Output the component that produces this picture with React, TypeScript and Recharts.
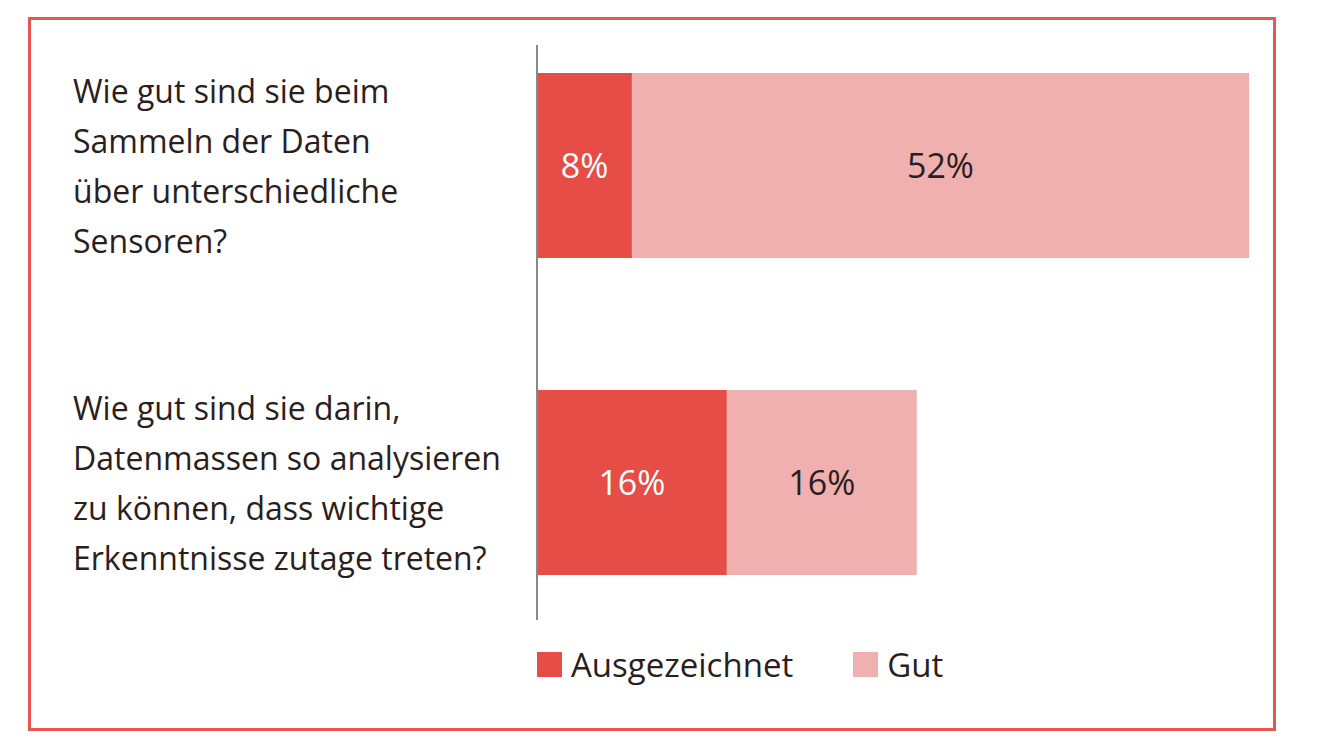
import React from "react"
import { BarChart, Bar, XAxis, YAxis, LabelList, Legend } from "recharts"

const questions = [
  ["Wie gut sind sie beim", "Sammeln der Daten", "über unterschiedliche", "Sensoren?"],
  ["Wie gut sind sie darin,", "Datenmassen so analysieren", "zu können, dass wichtige", "Erkenntnisse zutage treten?"],
]
const ausgezeichnet = [8, 16]
const gut = [52, 16]
const seriesNames = ["Ausgezeichnet", "Gut"]

const RED = "#e54d46"
const PINK = "#f0b0b0"
const TEXT = "#2a1e1e"
const FONT = "'Open Sans', 'Noto Sans', sans-serif"

const data = questions.map((q, i) => ({
  question: q.join("\n"),
  ausgezeichnet: ausgezeichnet[i],
  gut: gut[i],
}))

function QuestionTick({ y, payload }: any) {
  const lines = String(payload.value).split("\n")
  const lh = 50
  const start = y - ((lines.length - 1) * lh) / 2 - 1
  return (
    <text x={73} y={start} fill={TEXT} fontSize={32} fontFamily={FONT} dominantBaseline="central">
      {lines.map((l, i) => (
        <tspan key={i} x={73} y={start + i * lh}>
          {l}
        </tspan>
      ))}
    </text>
  )
}

// fixed height so the plot offset stays predictable
function LegendBox() {
  const items = [
    { name: seriesNames[0], color: RED },
    { name: seriesNames[1], color: PINK },
  ]
  return (
    <div style={{ display: "flex", alignItems: "center", height: 40, fontFamily: FONT, fontSize: 33, color: TEXT }}>
      {items.map((it, i) => (
        <div key={it.name} style={{ display: "flex", alignItems: "center", marginRight: i === 0 ? 60 : 0 }}>
          <span style={{ width: 25, height: 25, background: it.color, display: "inline-block", marginRight: 9 }} />
          <span>{it.name}</span>
        </div>
      ))}
    </div>
  )
}

export default function App() {
  return (
    <div style={{ position: "absolute", left: 0, top: 0, width: 1320, height: 742, background: "#fff" }}>
      <div
        style={{
          position: "absolute",
          left: 28,
          top: 17,
          width: 1242,
          height: 708,
          border: "3px solid #e8564f",
        }}
      />
      <div style={{ position: "absolute", left: 0, top: 0 }}>
        <BarChart
          width={1320}
          height={742}
          data={data}
          layout="vertical"
          margin={{ top: 45, right: 71, bottom: 82, left: 0 }}
        >
          <XAxis type="number" domain={[0, 60]} hide />
          <YAxis
            type="category"
            dataKey="question"
            width={537}
            padding={{ top: -38, bottom: -21 } as any}
            axisLine={{ stroke: "#888", strokeWidth: 2 }}
            tickLine={false}
            tick={<QuestionTick />}
            interval={0}
          />
          <Legend
            content={<LegendBox />}
            wrapperStyle={{ position: "absolute", left: 537, top: 644, width: "auto", height: 40 }}
          />
          <Bar dataKey="ausgezeichnet" name={seriesNames[0]} stackId="a" fill={RED} barSize={185} isAnimationActive={false}>
            <LabelList
              dataKey="ausgezeichnet"
              position="center"
              formatter={(v: any) => `${v}%`}
              fill="#fff"
              fontSize={34}
              fontFamily={FONT}
            />
          </Bar>
          <Bar dataKey="gut" name={seriesNames[1]} stackId="a" fill={PINK} barSize={185} isAnimationActive={false}>
            <LabelList
              dataKey="gut"
              position="center"
              formatter={(v: any) => `${v}%`}
              fill={TEXT}
              fontSize={34}
              fontFamily={FONT}
            />
          </Bar>
        </BarChart>
      </div>
    </div>
  )
}
